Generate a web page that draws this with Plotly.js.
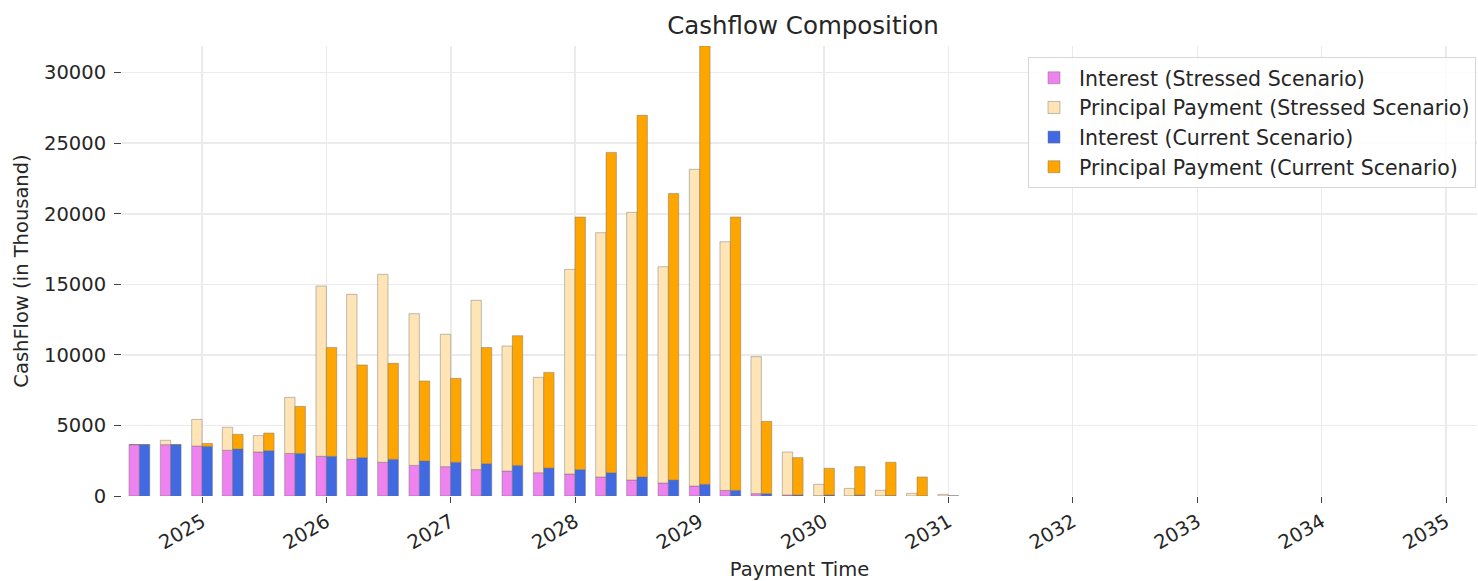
<!DOCTYPE html>
<html>
<head>
<meta charset="utf-8">
<script src="https://cdn.plot.ly/plotly-3.0.1.min.js"></script>
<style>html,body{margin:0;padding:0;background:#fff;}#chart{width:1478px;height:581px;}</style>
</head>
<body>
<div id="chart"></div>
<script>
// Quarterly payment dates
const paymentDates = [
  '2024-07-01','2024-10-01','2025-01-01','2025-04-01','2025-07-01','2025-10-01',
  '2026-01-01','2026-04-01','2026-07-01','2026-10-01','2027-01-01','2027-04-01',
  '2027-07-01','2027-10-01','2028-01-01','2028-04-01','2028-07-01','2028-10-01',
  '2029-01-01','2029-04-01','2029-07-01','2029-10-01','2030-01-01','2030-04-01',
  '2030-07-01','2030-10-01','2031-01-01'
];
// Stressed scenario (thousands)
const interestStressed = [
  3640,3640,3540,3240,3120,3020,2810,2600,2390,2170,2080,1870,
  1770,1650,1560,1350,1130,920,710,400,170,70,20,10,5,0,0
];
const principalStressed = [
  0,310,1890,1630,1160,3970,12070,11690,13320,10750,9380,12000,
  8860,6760,14500,17310,18970,15330,22440,17620,9710,3050,810,530,400,190,120
];
// Current scenario (thousands)
const interestCurrent = [
  3640,3640,3520,3330,3210,3020,2810,2720,2600,2480,2390,2290,
  2170,1980,1870,1650,1350,1130,830,400,170,70,70,60,30,10,0
];
const principalCurrent = [
  0,0,210,1040,1250,3330,7720,6570,6800,5670,5950,8240,
  9190,6780,17900,22700,25630,20310,31060,19370,5120,2650,1890,2020,2360,1340,0
];
const yearTicks = ['2025','2026','2027','2028','2029','2030','2031','2032','2033','2034','2035'];

const DAY = 86400000;
const W = 30.5 * DAY;
const edge = {color: 'rgba(110,110,110,0.55)', width: 0.8};

function barTrace(name, y, base, color, offset) {
  const t = {
    type: 'bar', name: name, x: paymentDates, y: y,
    offset: offset, width: W,
    marker: {color: color, line: edge},
    hovertemplate: '%{x|%Y-%m-%d}: %{y}<extra>' + name + '</extra>'
  };
  if (base) t.base = base;
  return t;
}

const traces = [
  barTrace('Interest (Stressed Scenario)', interestStressed, null, '#EE82EE', -W),
  barTrace('Principal Payment (Stressed Scenario)', principalStressed, interestStressed, '#FFE4B5', -W),
  barTrace('Interest (Current Scenario)', interestCurrent, null, '#4169E1', 0),
  barTrace('Principal Payment (Current Scenario)', principalCurrent, interestCurrent, '#FFA500', 0)
];

const maxTotal = Math.max(...principalCurrent.map((p, i) => p + interestCurrent[i]),
                          ...principalStressed.map((p, i) => p + interestStressed[i]));

const font = 'DejaVu Sans, sans-serif';
const layout = {
  width: 1478, height: 581,
  margin: {l: 122, r: 1, t: 46, b: 85},
  paper_bgcolor: '#ffffff', plot_bgcolor: '#ffffff',
  barmode: 'overlay',
  font: {family: font, size: 19.5, color: '#262626'},
  title: {text: 'Cashflow Composition', font: {family: font, size: 24.5, color: '#262626'},
          x: 0.5026, xref: 'paper', y: 1 - 25/581, yref: 'container', yanchor: 'middle'},
  xaxis: {
    type: 'date',
    range: ['2024-05-11', '2035-04-02'],
    tickmode: 'array',
    tickvals: yearTicks.map(y => y + '-01-01'),
    ticktext: yearTicks,
    tickangle: -30,
    ticks: 'outside', ticklen: 6, tickwidth: 1, tickcolor: '#444',
    showgrid: true, gridcolor: '#ebebeb', gridwidth: 1.6,
    showline: false, zeroline: false,
    tickfont: {family: font, size: 19.5, color: '#262626'},
    title: {text: 'Payment Time', font: {family: font, size: 19.5, color: '#262626'}, standoff: 11},
    automargin: false
  },
  yaxis: {
    range: [0, maxTotal],
    tickmode: 'array',
    tickvals: [0,5000,10000,15000,20000,25000,30000],
    ticktext: ['0','5000','10000','15000','20000','25000','30000'],
    ticks: 'outside', ticklen: 7, tickwidth: 1, tickcolor: '#444',
    ticklabelstandoff: 4,
    showgrid: true, gridcolor: '#ebebeb', gridwidth: 1.6,
    showline: false, zeroline: false,
    tickfont: {family: font, size: 19.5, color: '#262626'},
    title: {text: 'CashFlow (in Thousand)', font: {family: font, size: 19.5, color: '#262626'}, standoff: 10},
    automargin: false
  },
  legend: {
    x: 0.99926, xanchor: 'right', y: 0.9756, yanchor: 'top',
    bgcolor: 'rgba(255,255,255,0.85)', bordercolor: '#d6d6d6', borderwidth: 1,
    font: {family: font, size: 20.5, color: '#262626'},
    traceorder: 'normal', itemwidth: 40
  },
  showlegend: true
};

Plotly.newPlot('chart', traces, layout, {displayModeBar: false, staticPlot: true});
</script>
</body>
</html>
